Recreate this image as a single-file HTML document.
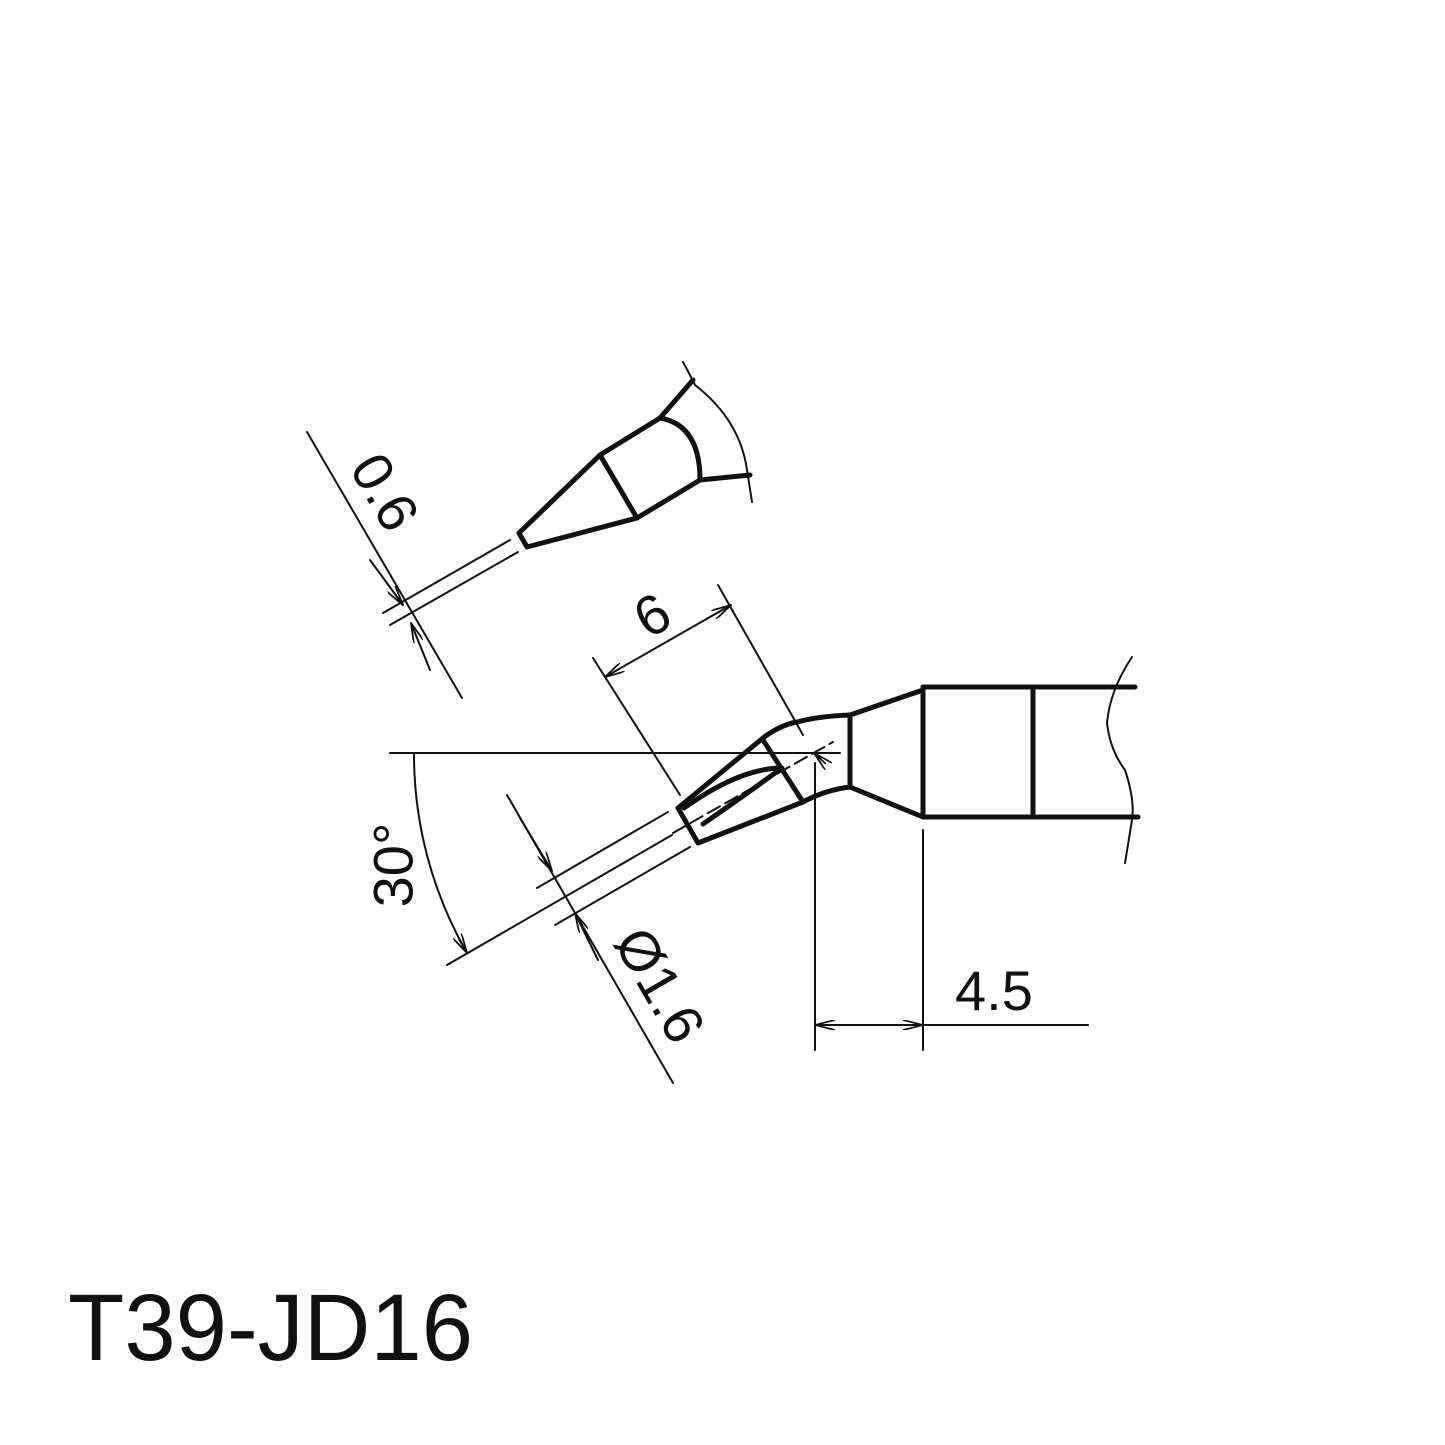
<!DOCTYPE html>
<html><head><meta charset="utf-8"><style>html,body{margin:0;padding:0;background:#fff}svg{display:block}</style></head>
<body>
<svg width="1445" height="1445" viewBox="0 0 1445 1445" xmlns="http://www.w3.org/2000/svg">
<defs>
<marker id="a" viewBox="0 0 20 10" refX="20" refY="5" markerWidth="20" markerHeight="10" markerUnits="userSpaceOnUse" orient="auto-start-reverse">
<path d="M0,0 L20,5 L0,10 M4,5 L20,5" fill="none" stroke="#111" stroke-width="1.8"/>
</marker>
</defs>
<g fill="none" stroke="#111" stroke-linejoin="round" stroke-linecap="round">
<g stroke-width="5">
<path d="M519,533 L527,547 L637,518 L700,480 L750,475"/>
<path d="M519,533 L600,455 L660,418 L693,380"/>
<path d="M600,455 L637,518"/>
<path d="M660,418 Q700,425 700,480"/>
</g>
<path d="M683,362 Q690,375 695,385 Q740,420 747,470 L752,502" stroke-width="2"/>
<g stroke-width="2">
<path d="M307,432 L462,698"/>
<path d="M510,540 L383,613"/>
<path d="M518,552 L390,625"/>
<path d="M370,560 L403,605" marker-end="url(#a)"/>
<path d="M430,670 L411,623" marker-end="url(#a)"/>
</g>
<text x="0" y="0" transform="translate(385,492) rotate(60)" font-family="Liberation Sans, sans-serif" font-size="56" fill="#111" stroke="none" text-anchor="middle" dominant-baseline="central">0.6</text>

<g stroke-width="5">
<path d="M678,808 L698,843 L803,802 Q825,790 850,787"/>
<path d="M678,808 L763,738 Q780,725 797,722 Q820,716 850,715"/>
<path d="M763,740 L803,802"/>
<path d="M684,808 Q740,768 782,768 Q745,795 703,824"/>
<path d="M850,715 L850,787"/>
<path d="M850,715 L923,690"/>
<path d="M850,787 L923,817"/>
<path d="M1135,687 L923,687 L923,817 L1138,817"/>
<path d="M1033,687 L1033,817"/>
</g>
<path d="M1132,657 Q1110,690 1107,723 Q1110,750 1125,770 Q1135,800 1132,820 L1125,863" stroke-width="2"/>
<path d="M673,833 L833,742" stroke-width="2" stroke-dasharray="14,6"/>
<g stroke-width="2">
<path d="M390,753 L840,753"/>
<path d="M447,965 L672,835"/>
<path d="M537,888 L668,812"/>
<path d="M555,925 L690,847"/>
<path d="M814,753 m-400,0 A400,400 0 0 0 467,953" marker-start="url(#a)" marker-end="url(#a)"/>
<path d="M507,795 L673,1083"/>
<path d="M520,818 L552,871" marker-end="url(#a)"/>
<path d="M598,960 L575,913" marker-end="url(#a)"/>
<path d="M593,658 L680,795"/>
<path d="M718,585 L803,735"/>
<path d="M605,677 L731,605" marker-start="url(#a)" marker-end="url(#a)"/>
<path d="M815,763 L815,1050"/>
<path d="M923,830 L923,1050"/>
<path d="M815,1025 L923,1025" marker-start="url(#a)" marker-end="url(#a)"/>
<path d="M923,1025 L1088,1025"/>
</g>
</g>
<g font-family="Liberation Sans, sans-serif" fill="#111">
<text transform="translate(652,615) rotate(-30)" font-size="56" text-anchor="middle" dominant-baseline="central">6</text>
<text transform="translate(393,865) rotate(-90)" font-size="56" text-anchor="middle" dominant-baseline="central">30°</text>
<text transform="translate(660,985) rotate(60)" font-size="56" text-anchor="middle" dominant-baseline="central">Ø1.6</text>
<text x="955" y="1010" font-size="56">4.5</text>
<text x="68" y="1360" font-size="95" textLength="405" lengthAdjust="spacingAndGlyphs">T39-JD16</text>
</g>
</svg>
</body></html>
